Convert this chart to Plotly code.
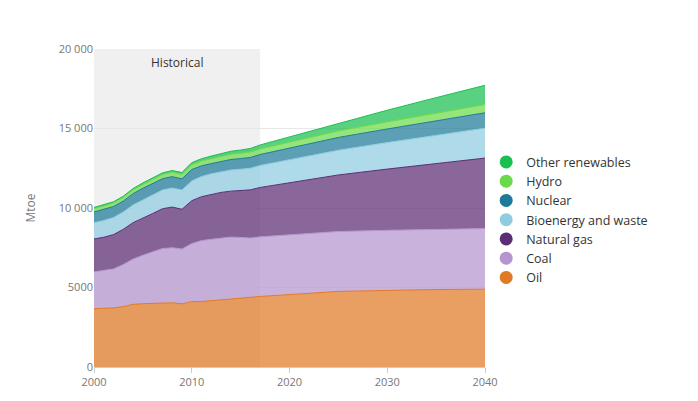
import plotly.graph_objects as go

hist_years = list(range(2000, 2018))
proj_years = [2025, 2030, 2035, 2040]
years = hist_years + proj_years

oil = [3665, 3690, 3720, 3800, 3940, 3980, 4010, 4050, 4040, 3970, 4110, 4120, 4170, 4210, 4250, 4320, 4380, 4435,
       4754, 4834, 4873, 4894]
coal = [2316, 2370, 2450, 2650, 2850, 3050, 3230, 3400, 3460, 3450, 3650, 3830, 3860, 3900, 3920, 3830, 3730, 3750,
        3768, 3762, 3779, 3809]
gas = [2071, 2100, 2160, 2210, 2290, 2360, 2410, 2500, 2560, 2500, 2700, 2760, 2830, 2870, 2890, 2950, 3030, 3107,
       3556, 3851, 4137, 4436]
bio = [1023, 1050, 1070, 1090, 1110, 1130, 1160, 1180, 1200, 1210, 1240, 1270, 1290, 1310, 1330, 1340, 1360, 1384,
       1554, 1666, 1765, 1880]
nuclear = [675, 690, 696, 687, 714, 722, 728, 709, 712, 703, 719, 674, 642, 646, 660, 670, 680, 688,
           805, 856, 919, 971]
hydro = [225, 226, 229, 232, 241, 252, 261, 266, 275, 279, 296, 300, 315, 324, 333, 334, 346, 353,
         412, 448, 483, 516]
other = [60, 64, 68, 73, 80, 86, 93, 102, 112, 121, 135, 148, 160, 172, 186, 200, 220, 250,
         487, 734, 985, 1213]

series_names = ["Oil", "Coal", "Natural gas", "Bioenergy and waste", "Nuclear", "Hydro", "Other renewables"]
series_values = [oil, coal, gas, bio, nuclear, hydro, other]
line_colors = ["#e07a25", "#b495cf", "#5b2d75", "#8fcce0", "#1f7a99", "#6cd94a", "#1bbf4f"]

y_tickvals = [0, 5000, 10000, 15000, 20000]
y_ticktext = ["0", "5000", "10 000", "15 000", "20 000"]
x_tickvals = [2000, 2010, 2020, 2030, 2040]


def rgba(hexc, a):
    h = hexc.lstrip("#")
    r, g, b = int(h[0:2], 16), int(h[2:4], 16), int(h[4:6], 16)
    return f"rgba({r},{g},{b},{a})"


fig = go.Figure()
for name, vals, col in zip(series_names, series_values, line_colors):
    fig.add_trace(go.Scatter(
        x=years, y=vals, name=name, stackgroup="one", mode="lines",
        line=dict(color=col, width=1), fillcolor=rgba(col, 0.72),
        showlegend=False, hoverinfo="x+y+name",
    ))
for name, col in zip(series_names, line_colors):
    fig.add_trace(go.Scatter(
        x=[None], y=[None], name=name, mode="markers",
        marker=dict(color=col, size=13, symbol="circle"), showlegend=True,
    ))

fig.add_shape(type="rect", xref="x", yref="paper", x0=2000, x1=2017, y0=0, y1=1,
              fillcolor="#f0f0f0", line=dict(width=0), layer="below")
fig.add_annotation(x=2008.5, y=1, xref="x", yref="paper", yanchor="top", yshift=-3,
                   text="Historical", showarrow=False,
                   font=dict(size=12, color="#333333"))

fig.update_layout(
    width=690, height=393,
    margin=dict(l=86, r=213, t=41, b=34),
    paper_bgcolor="white", plot_bgcolor="white",
    font=dict(family="Open Sans", size=11, color="#777777"),
    showlegend=True,
    legend=dict(x=1.003, y=0.463, xanchor="left", yanchor="middle", traceorder="reversed",
                font=dict(size=12.5, color="#333333"), itemsizing="trace", tracegroupgap=0,
                bgcolor="rgba(0,0,0,0)"),
    xaxis=dict(range=[2000, 2040], tickvals=x_tickvals, showgrid=False, zeroline=False,
               showline=True, linecolor="#cccccc", ticks="outside", tickcolor="#cccccc", ticklen=5,
               tickfont=dict(size=11, color="#777777"), automargin=False),
    yaxis=dict(range=[0, 20000], tickvals=y_tickvals, ticktext=y_ticktext, showgrid=True,
               gridcolor="#e8e8e8", zeroline=False, showline=False, automargin=False,
               title=dict(text="Mtoe", font=dict(size=12, color="#777777"), standoff=20),
               tickfont=dict(size=11, color="#777777")),
)

fig.write_html("out.html")
